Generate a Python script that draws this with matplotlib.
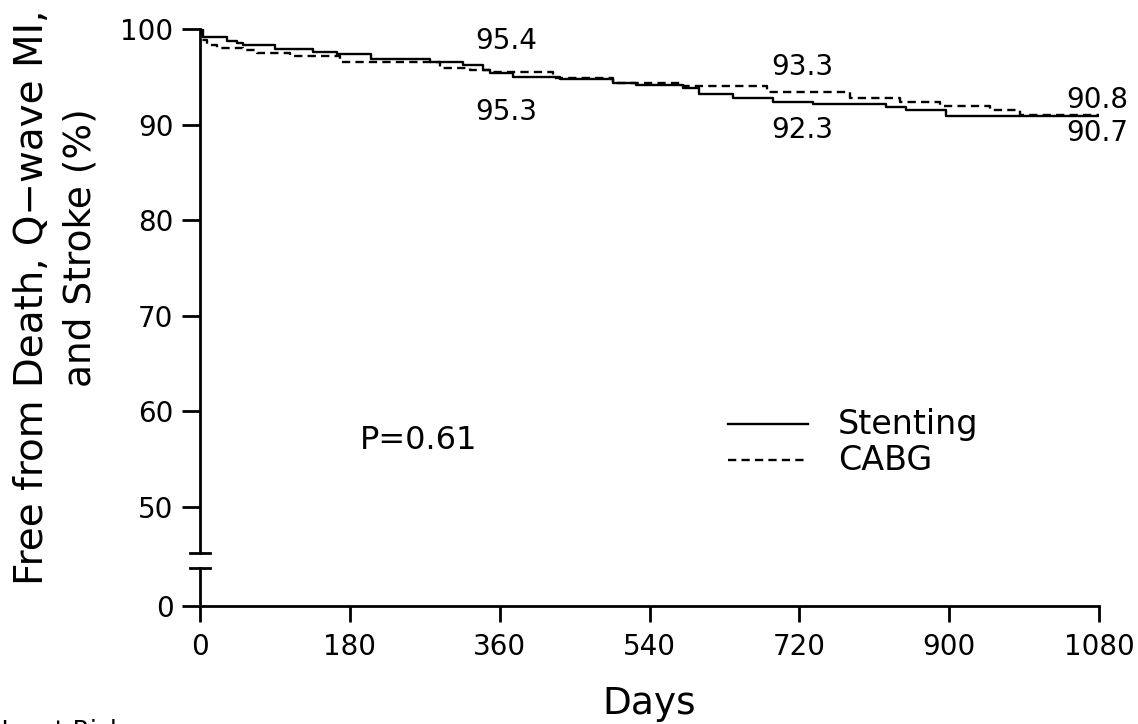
import numpy as np
import matplotlib.pyplot as plt
from matplotlib.lines import Line2D

plt.rcParams['font.family'] = ['DejaVu Sans']

# step curves (days, % free from event)
stent_days = [0, 4, 32, 45, 52, 90, 136, 164, 206, 276, 316, 340, 348, 376, 432, 496, 524, 580, 600,
              640, 688, 736, 824, 848, 896, 1080]
stent_free = [100, 99.2, 98.7, 98.5, 98.3, 97.9, 97.6, 97.4, 96.9, 96.6, 96.2, 95.7, 95.4, 95.0, 94.8,
              94.4, 94.1, 93.8, 93.2, 92.75, 92.4, 92.15, 91.8, 91.5, 90.9, 90.9]
cabg_days = [0, 2, 8, 20, 52, 68, 108, 168, 288, 324, 348, 424, 496, 580, 681, 781, 841, 889, 949, 985, 1080]
cabg_free = [100, 98.9, 98.3, 98.0, 97.8, 97.5, 97.2, 96.6, 95.9, 95.7, 95.5, 94.9, 94.3, 94.0, 93.4,
             92.75, 92.4, 91.9, 91.5, 91.0, 91.0]

# labelled values
mark_days = [368, 724, 1115]
stent_marks = ['95.3', '92.3', '90.7']
cabg_marks = ['95.4', '93.3', '90.8']

xticks = [0, 180, 360, 540, 720, 900, 1080]
ytick_labels = ['0', '50', '60', '70', '80', '90', '100']

# y axis is broken: 0 is drawn just below 50
zero_pos = 39.64
ytick_pos = [zero_pos, 50, 60, 70, 80, 90, 100]

fig = plt.figure(figsize=(11.38, 7.24), dpi=100)
ax = fig.add_axes([200/1138, 1-606/724, 899/1138, 577/724])

ax.step(stent_days, stent_free, where='post', color='black', lw=1.7)
ax.step(cabg_days, cabg_free, where='post', color='black', lw=1.7, ls=(0, (3.5, 2.2)))

ax.set_xlim(0, 1080)
ax.set_ylim(zero_pos, 100)
ax.set_xticks(xticks)
ax.set_yticks(ytick_pos)
ax.set_yticklabels(ytick_labels)
ax.tick_params(axis='x', direction='out', length=11.5, width=2, labelsize=20, pad=8)
ax.tick_params(axis='y', direction='out', length=13, width=2, labelsize=20, pad=6)

for s in ['top', 'right', 'left']:
    ax.spines[s].set_visible(False)
ax.spines['bottom'].set_linewidth(2)

# broken left spine
brk_hi = 45.2
brk_lo = 43.6
trans = ax.get_yaxis_transform()
cap = 10/899
ax.add_line(Line2D([0, 0], [brk_hi, 100], transform=trans, color='black', lw=2, clip_on=False))
ax.add_line(Line2D([0, 0], [zero_pos, brk_lo], transform=trans, color='black', lw=2, clip_on=False))
ax.add_line(Line2D([-cap, cap], [brk_hi, brk_hi], transform=trans, color='black', lw=2, clip_on=False))
ax.add_line(Line2D([-cap, cap], [brk_lo, brk_lo], transform=trans, color='black', lw=2, clip_on=False))

# value labels
ax.text(mark_days[0], 98.74, cabg_marks[0], ha='center', va='center', fontsize=20)
ax.text(mark_days[0], 91.32, stent_marks[0], ha='center', va='center', fontsize=20)
ax.text(mark_days[1], 96.03, cabg_marks[1], ha='center', va='center', fontsize=20)
ax.text(mark_days[1], 89.43, stent_marks[1], ha='center', va='center', fontsize=20)
ax.text(mark_days[2], 92.57, cabg_marks[2], ha='right', va='center', fontsize=20, clip_on=False)
ax.text(mark_days[2], 89.12, stent_marks[2], ha='right', va='center', fontsize=20, clip_on=False)

ax.text(192, 57.0, 'P=0.61', ha='left', va='center', fontsize=23)

# legend drawn by hand
ax.add_line(Line2D([0.587, 0.676], [0.3154, 0.3154], transform=ax.transAxes, color='black', lw=1.7))
ax.add_line(Line2D([0.587, 0.676], [0.253, 0.253], transform=ax.transAxes, color='black', lw=1.7,
                   ls=(0, (3.5, 2.2))))
ax.text(0.7097, 0.3154, 'Stenting', transform=ax.transAxes, ha='left', va='center', fontsize=24)
ax.text(0.7097, 0.253, 'CABG', transform=ax.transAxes, ha='left', va='center', fontsize=24)

ax.set_xlabel('Days', fontsize=27, labelpad=18)
fig.text(32/1138, 1-297/724, 'Free from Death, Q\u2212wave MI,', rotation=90,
         ha='center', va='center', fontsize=28)
fig.text(80/1138, 1-248/724, 'and Stroke (%)', rotation=90,
         ha='center', va='center', fontsize=27)

# risk-table heading, cut off by the bottom edge as in the source
fig.text(-10/1138, 1-719/724, 'No. at Risk', ha='left', va='top', fontsize=18)

fig.savefig('out.png', dpi=100)
